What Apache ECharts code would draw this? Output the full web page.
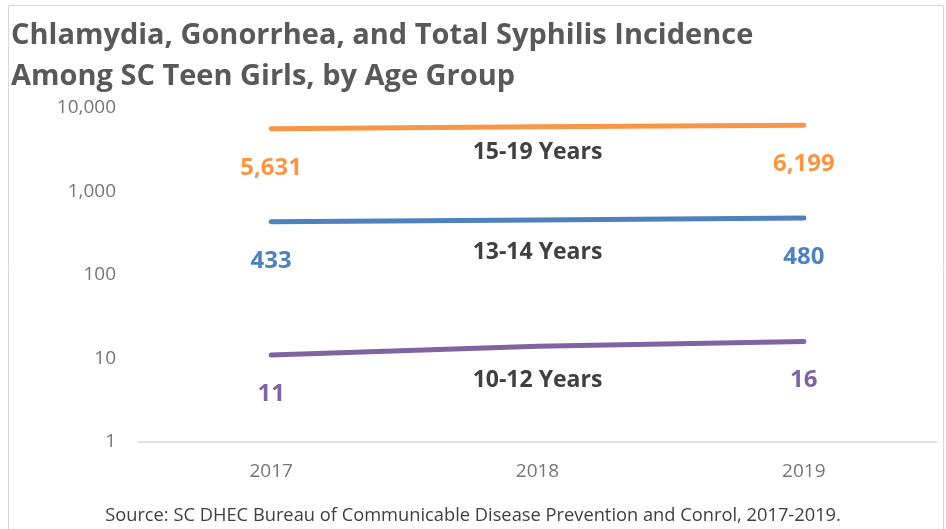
<!DOCTYPE html>
<html><head><meta charset="utf-8">
<script src="https://cdn.jsdelivr.net/npm/echarts@6/dist/echarts.min.js"></script>
<style>html,body{margin:0;padding:0;background:#fff}#c{width:946px;height:529px}</style>
</head><body><div id="c"></div>
<script>
const years = ['2017', '2018', '2019'];
const seriesNames = ['15-19 Years', '13-14 Years', '10-12 Years'];
const teen15to19 = [5631, 5950, 6199];
const teen13to14 = [433, 455, 480];
const teen10to12 = [11, 14, 16];
const colors = ['#F79646', '#4F81BD', '#8064A2'];
const titleLines = ['Chlamydia, Gonorrhea, and Total Syphilis Incidence', 'Among SC Teen Girls, by Age Group'];
const sourceText = 'Source: SC DHEC Bureau of Communicable Disease Prevention and Conrol, 2017-2019.';

const FONT = '"Open Sans", sans-serif';
const nameOffsets = [14, 21, 23];

function mkSeries(name, vals, color, nameOff) {
  return {
    name: name, type: 'line', data: vals.map((v, i) => ({
      value: v,
      label: i === 1 ? {
        show: true, position: 'bottom', distance: nameOff,
        formatter: name, color: '#404040', fontSize: 23, fontWeight: 'bold', fontFamily: FONT
      } : {
        show: true, position: 'bottom', distance: 27,
        formatter: (p) => p.value.toLocaleString('en-US'),
        color: color, fontSize: 24, fontWeight: 'bold', fontFamily: FONT
      }
    })),
    showSymbol: true, symbol: 'circle', symbolSize: 0,
    lineStyle: { color: color, width: 5, cap: 'round' },
    itemStyle: { color: color },
    z: 3
  };
}

const chart = echarts.init(document.getElementById('c'), null, { renderer: 'canvas' });
chart.setOption({
  animation: false,
  backgroundColor: '#fff',
  graphic: [
    { type: 'rect', shape: { x: 8.5, y: 5.5, width: 935, height: 540 }, style: { fill: 'none', stroke: '#d9d9d9', lineWidth: 1 }, z: 0 },
    { type: 'text', left: 11, top: 15, style: { text: titleLines.join('\n'), font: 'bold 29px ' + FONT, fill: '#595959', lineHeight: 41 } },
    { type: 'text', left: 'center', top: 507, style: { text: sourceText, font: '18.3px ' + FONT, fill: '#404040' } }
  ],
  grid: { left: 138, right: 9, top: 108, bottom: 87, containLabel: false },
  xAxis: {
    type: 'category', data: years, boundaryGap: true,
    axisLine: { lineStyle: { color: '#d9d9d9', width: 1.5 } },
    axisTick: { show: false },
    axisLabel: { color: '#767676', fontSize: 19, margin: 20, fontFamily: FONT }
  },
  yAxis: {
    type: 'log', logBase: 10, min: 1, max: 10000,
    axisLine: { show: false }, axisTick: { show: false },
    splitLine: { show: false },
    axisLabel: { color: '#767676', fontSize: 19, margin: 22, fontFamily: FONT,
      formatter: (v) => Math.round(v).toLocaleString('en-US') }
  },
  series: [
    mkSeries(seriesNames[0], teen15to19, colors[0], nameOffsets[0]),
    mkSeries(seriesNames[1], teen13to14, colors[1], nameOffsets[1]),
    mkSeries(seriesNames[2], teen10to12, colors[2], nameOffsets[2])
  ]
});
</script></body></html>
